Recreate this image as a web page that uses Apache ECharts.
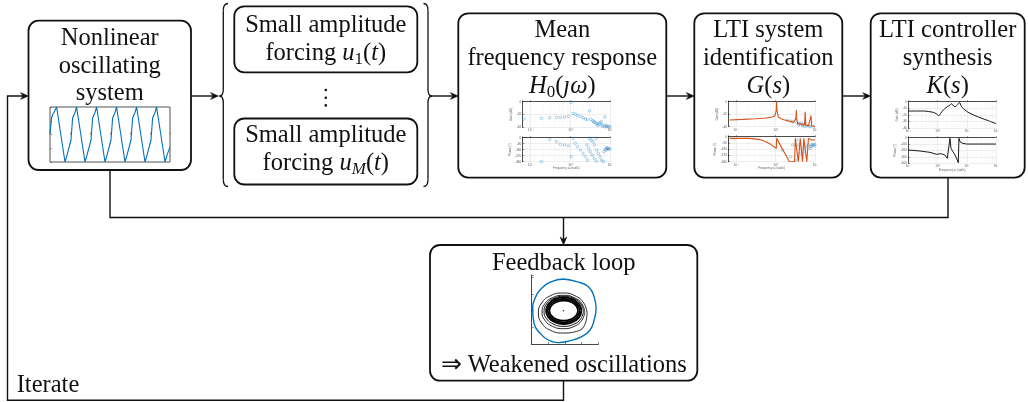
<!DOCTYPE html>
<html><head><meta charset="utf-8">
<script src="https://cdn.jsdelivr.net/npm/echarts@6.0.0/dist/echarts.min.js"></script>
<style>html,body{margin:0;padding:0;background:#fff}#c{width:1028px;height:402px}</style>
</head><body><div id="c"></div>
<script>
// ---------------- data ----------------
// oscillation of the nonlinear system (time in periods, normalized amplitude)
const oscWave = [[0,0.05],[0.08,0.6],[0.13,0.72],[0.2,0.8],[0.33,1.0],[0.75,-1.0],[0.85,-0.75],[0.95,-0.72],[1.05,-0.2],[1.13,0.6],[1.2,0.72],[1.25,0.8],[1.33,1.0],[1.75,-1.0],[1.85,-0.75],[1.95,-0.72],[2.05,-0.2],[2.13,0.6],[2.2,0.72],[2.25,0.8],[2.33,1.0],[2.75,-1.0],[2.85,-0.75],[2.95,-0.72],[3.05,-0.2],[3.13,0.6],[3.2,0.72],[3.25,0.8],[3.33,1.0],[3.75,-1.0],[3.85,-0.75],[3.95,-0.72],[4.05,-0.2],[4.13,0.6],[4.2,0.72],[4.25,0.8],[4.33,1.0],[4.75,-1.0],[4.85,-0.75],[4.95,-0.72],[5.05,-0.2],[5.13,0.6],[5.2,0.72],[5.25,0.8],[5.33,1.0],[5.75,-1.0],[5.85,-0.75],[5.95,-0.72],[6.0,-0.45]];

// mean frequency response H0 (rad/s, dB) and (rad/s, deg)
const h0Gain = [[0.066,-27],[0.186,-26],[0.30,-25],[0.447,-24.4],[0.562,-24.4],[0.708,-23.9],[0.891,-22.9],[1.047,-1],[1.175,-18.2],[1.33,-19.7],[1.51,-21.3],[1.78,-22.9],[2.09,-24.9],[2.40,-27],[2.69,-28],[3.02,-14.5],[3.31,-27.5],[3.72,-30],[3.9,-31.5],[4.17,-32],[4.5,-35],[4.79,-34],[5.0,-37],[5.37,-35],[5.6,-33],[6.03,-31],[6.3,-38],[6.61,-36],[7.2,-39],[7.41,-24],[7.94,-37],[8.0,-39.5],[8.51,-38],[9.33,-39],[10,-39.5]];
const h0Phase = [[0.186,-360],[0.30,-25],[0.447,-60],[0.562,-100],[0.708,-110],[0.891,-120],[1.047,-285],[1.175,-10],[1.33,-85],[1.51,-135],[1.78,-185],[2.09,-235],[2.40,-285],[2.61,-110],[2.69,-335],[2.87,-160],[3.02,-10],[3.16,-210],[3.31,-35],[3.55,-260],[3.72,-60],[3.98,-310],[4.06,-110],[4.47,-10],[4.5,-350],[4.64,-185],[5.11,-235],[5.62,-285],[6.19,-335],[6.81,-360],[7.08,-210],[7.6,-170],[7.94,-185],[8.25,-150],[8.58,-160],[8.9,-160],[9.26,-170],[10,-170]];

// identified LTI model G(s)
const gGainFit = [[0.068,-29.3],[0.147,-28.3],[0.316,-27.2],[0.562,-26.1],[0.826,-24.5],[0.962,-22.4],[1.039,-13.3],[1.059,0],[1.08,-13.3],[1.166,-24],[1.33,-26.7],[1.61,-28.8],[2.15,-30.9],[2.87,-33.1],[3.16,-34.1],[3.28,-26.7],[3.35,-13.3],[3.41,-26.7],[3.62,-34.7],[4.64,-36.3],[5.41,-37.3],[5.62,-16],[5.84,-37.3],[6.81,-38.4],[7.65,-38.9],[7.94,-22.4],[8.25,-38.9],[10,-39.5]];
const gGainData = [[1.96,-29.3],[2.37,-30.9],[2.71,-32],[3.48,-33.6],[3.83,-37.3],[3.98,-35.2],[4.47,-34.1],[4.83,-38.9],[4.92,-36.3],[5.62,-40],[6.19,-38.4],[7.08,-38.9],[7.5,-40],[9.1,-40]];
const gPhaseFit = [[0.068,-24],[0.215,-24],[0.383,-38],[0.562,-72],[0.75,-110],[0.909,-144],[1.039,-168],[1.059,-24],[2.24,-360],[3.04,-360],[3.16,-24],[3.76,-360],[4.22,-24],[4.82,-360],[5.21,-24],[6.19,-360],[6.81,-24],[8.25,-48],[10,-48]];
const gPhaseData = [[1.47,-192],[2.37,-288],[2.71,-120],[3.16,-336],[3.48,-48],[3.83,-120],[4.22,-240],[4.82,-168],[5.41,-216],[5.84,-144],[6.81,-120],[7.5,-168],[7.9,-144],[8.25,-130],[8.6,-110],[9.1,-120],[9.6,-130],[10,-110]];

// LTI controller K(s)
const kGain = [[0.1,-14],[0.326,-14],[0.716,-16],[0.931,-18.5],[1.12,-21],[1.28,-17.5],[1.57,-12.5],[2.16,-7.5],[2.66,-5],[3.03,-3],[3.46,-6],[3.94,-7.5],[4.74,-5],[5.56,-1],[6.67,-7.5],[8.67,-12.5],[12.9,-17.5],[28.3,-24],[54.6,-28.5],[100,-33]];
const kPhase = [[0.1,-192],[0.251,-208],[0.551,-229],[0.931,-260],[1.06,-281],[1.28,-249],[1.49,-229],[1.79,-270],[2.16,-322],[2.52,-348],[2.66,-10],[2.88,-166],[3.94,-270],[4.74,-348],[5.13,-390],[5.41,-10],[5.85,-62],[7.22,-88],[9.89,-99],[28.3,-99],[100,-99]];

// feedback loop phase portrait
const openLoopCycle = [[95,195],[135,187],[170,172],[187,142],[193,107],[187,72],[175,42],[150,22],[115,10],[80,4],[50,12],[25,32],[7,62],[3,102],[10,137],[30,167],[60,187],[95,195]];
const spiralA = [[166,93],[156,123],[129.5,145],[93,153],[56.5,145],[29.8,123],[20,93],[29.8,63],[56.5,41],[93,33],[135,38],[160,60],[166,93]];
const spiralB = [[159,96],[150.4,121],[127,139.3],[95,146],[63,139.3],[39.6,121],[31,96],[39.6,71],[63,52.7],[95,46],[127,52.7],[150.4,71],[159,96]];
const spiralC = [[155,98],[147.1,120.5],[125.5,137],[96,143],[66.5,137],[44.9,120.5],[37,98],[44.9,75.5],[66.5,59],[96,53],[125.5,59],[147.1,75.5],[155,98]];
const core1 = [[149,100],[141.9,120],[122.5,134.6],[96,140],[69.5,134.6],[50.1,120],[43,100],[50.1,80],[69.5,65.4],[96,60],[122.5,65.4],[141.9,80],[149,100]];
const core2 = [[144,100],[137.6,117.5],[120,130.3],[96,135],[72,130.3],[54.4,117.5],[48,100],[54.4,82.5],[72,69.7],[96,65],[120,69.7],[137.6,82.5],[144,100]];
const core3 = [[139,100],[133.2,115],[117.5,126],[96,130],[74.5,126],[58.8,115],[53,100],[58.8,85],[74.5,74],[96,70],[117.5,74],[133.2,85],[139,100]];
const equilibrium = [[95,100]];

// ---------------- chart ----------------
const FONT = 'Liberation Serif';
const INK = '#111';
const BLUE = '#0072BD', ORANGE = '#D95319';
const chart = echarts.init(document.getElementById('c'), null, {renderer: 'canvas'});

const grids = [
  {left: 50, top: 107, width: 120, height: 55, show: true, borderColor: '#555', borderWidth: 1},
  {left: 522.7, top: 101.7, width: 87.3, height: 25.6},
  {left: 522.7, top: 137.7, width: 87.3, height: 24},
  {left: 728.3, top: 101.7, width: 86.7, height: 25},
  {left: 728.3, top: 136.7, width: 86.7, height: 25},
  {left: 908.3, top: 101.7, width: 87.7, height: 26.6},
  {left: 908.3, top: 137.7, width: 87.7, height: 25.6},
  {left: 531.7, top: 275, width: 66.7, height: 69}
].map(g => Object.assign({outerBoundsMode: 'none', containLabel: false}, g));

const tiny = {fontSize: 3, color: '#555', margin: 1.5};
function supExp(v) {
  const e = Math.log10(v), r = Math.round(e);
  if (Math.abs(e - r) > 0.02) return '';
  return '10' + ({'-1':'⁻¹','0':'⁰','1':'¹','2':'²'}[String(r)] || '');
}
function logX(gi, min, max, name) {
  return {type: 'log', logBase: 10, gridIndex: gi, min, max, splitNumber: 3,
    axisLine: {lineStyle: {color: '#222', width: 0.8}},
    axisTick: {inside: true, length: 1.5, lineStyle: {color: '#222', width: 0.5}},
    axisLabel: Object.assign({formatter: supExp}, tiny),
    splitLine: {show: true, lineStyle: {color: '#dcdcdc', width: 0.5}},
    minorTick: {show: false, splitNumber: 9},
    minorSplitLine: {show: true, lineStyle: {color: '#efefef', width: 0.4}},
    name: name || '', nameLocation: 'middle', nameGap: 5, nameTextStyle: {fontSize: 3, color: '#666'}};
}
function valY(gi, min, max, interval, name) {
  return {type: 'value', gridIndex: gi, min, max, interval,
    axisLine: {show: true, lineStyle: {color: '#222', width: 0.8}},
    axisTick: {show: true, inside: true, length: 1.5, lineStyle: {color: '#222', width: 0.5}},
    axisLabel: tiny,
    splitLine: {show: true, lineStyle: {color: '#dcdcdc', width: 0.5}},
    name, nameLocation: 'middle', nameGap: 7, nameRotate: 90, nameTextStyle: {fontSize: 3, color: '#666'}};
}

const xAxes = [
  {type: 'value', gridIndex: 0, min: 0, max: 6, interval: 1, axisLine: {show: false},
   axisTick: {show: true, inside: true, length: 2, lineStyle: {color: '#555', width: 0.6}},
   axisLabel: {show: false}, splitLine: {show: false}},
  logX(1, 0.0628, 10),
  logX(2, 0.0628, 10, 'Frequency ω (rad/s)'),
  logX(3, 0.0628, 10),
  logX(4, 0.0628, 10, 'Frequency ω (rad/s)'),
  logX(5, 0.1, 100),
  logX(6, 0.1, 100, 'Frequency ω (rad/s)'),
  {type: 'value', gridIndex: 7, min: 0, max: 200, interval: 50,
   axisLine: {lineStyle: {color: '#333', width: 0.9}},
   axisTick: {inside: true, length: 2, lineStyle: {color: '#333', width: 0.6}},
   axisLabel: {show: false}, splitLine: {show: false}}
];
const yAxes = [
  {type: 'value', gridIndex: 0, min: -1, max: 1, interval: 0.5, axisLine: {show: false},
   axisTick: {show: true, inside: true, length: 2, lineStyle: {color: '#555', width: 0.6}},
   axisLabel: {show: false}, splitLine: {show: false}},
  valY(1, -40, 0, 20, 'Gain (dB)'),
  valY(2, -360, 0, 90, 'Phase (°)'),
  valY(3, -40, 0, 20, 'Gain (dB)'),
  valY(4, -360, 0, 90, 'Phase (°)'),
  valY(5, -40, 0, 10, 'Gain (dB)'),
  valY(6, -400, 0, 100, 'Phase (°)'),
  {type: 'value', gridIndex: 7, min: 0, max: 207,
   axisLine: {lineStyle: {color: '#333', width: 0.9}},
   axisTick: {inside: true, length: 2, lineStyle: {color: '#333', width: 0.6}},
   axisLabel: {show: false}, splitLine: {show: false}}
];

function lineS(i, data, color, width, smooth) {
  return {type: 'line', xAxisIndex: i, yAxisIndex: i, data, showSymbol: false, symbol: 'none',
    smooth: smooth || false, lineStyle: {color, width}, silent: true, animation: false, clip: true, z: 3};
}
function scatS(i, data) {
  return {type: 'scatter', xAxisIndex: i, yAxisIndex: i, data, symbol: 'circle', symbolSize: 2.6,
    itemStyle: {color: 'rgba(255,255,255,0)', borderColor: 'rgba(0,114,189,0.65)', borderWidth: 0.6},
    silent: true, animation: false, z: 2};
}

const series = [
  lineS(0, oscWave, BLUE, 1.1),
  scatS(1, h0Gain), scatS(2, h0Phase),
  scatS(3, gGainData), lineS(3, gGainFit, ORANGE, 1.1),
  scatS(4, gPhaseData), lineS(4, gPhaseFit, ORANGE, 1.1),
  lineS(5, kGain, '#000', 0.9, 0.3), lineS(6, kPhase, '#000', 0.9),
  lineS(7, spiralA, '#111', 0.9, 0.5), lineS(7, spiralB, '#111', 0.9, 0.5), lineS(7, spiralC, '#111', 1.0, 0.5),
  lineS(7, core1, '#000', 1.8, 0.5), lineS(7, core2, '#000', 1.8, 0.5), lineS(7, core3, '#000', 1.8, 0.5),
  lineS(7, openLoopCycle, BLUE, 1.4, 0.5),
  {type: 'scatter', xAxisIndex: 7, yAxisIndex: 7, data: equilibrium, symbolSize: 1.5, itemStyle: {color: '#000'}, silent: true, animation: false}
];

// ---------------- diagram layout (graphic) ----------------
const G = [];
const FS = 24.5, SFS = 17;
const STY = {
  n: {size: FS, italic: false, dy: 0},
  i: {size: FS, italic: true, dy: 0},
  s: {size: SFS, italic: false, dy: 6},
  si: {size: SFS, italic: true, dy: 6}
};
const mctx = document.createElement('canvas').getContext('2d');
function measure(t, st) {
  mctx.font = (st.italic ? 'italic ' : '') + st.size + 'px "' + FONT + '"';
  return mctx.measureText(t).width;
}
// segments: [[styleKey, text], ...]; laid out left to right, centred on cx (or left-aligned)
function txt(cx, y, segs, leftAlign) {
  if (typeof segs === 'string') segs = [['n', segs]];
  const widths = segs.map(([k, t]) => measure(t, STY[k]));
  const total = widths.reduce((a, b) => a + b, 0);
  let x = leftAlign ? cx : cx - total / 2;
  segs.forEach(([k, t], j) => {
    const st = STY[k];
    G.push({type: 'text', x, y: y + st.dy, silent: true, z: 10,
      style: {text: t, fontSize: st.size, fontFamily: FONT, fontStyle: st.italic ? 'italic' : 'normal',
        fill: INK, align: 'left', verticalAlign: 'middle'}});
    x += widths[j];
  });
}
function box(x, y, w, h) {
  G.push({type: 'rect', silent: true, z: 1, shape: {x, y, width: w, height: h, r: 10},
    style: {fill: 'none', stroke: INK, lineWidth: 1.8}});
}
function poly(points, lw) {
  G.push({type: 'polyline', silent: true, z: 1, shape: {points}, style: {stroke: INK, lineWidth: lw || 1.4, fill: null}});
}
function head(x, y, dir) {
  const L = 8, W = 3.4, B = 5.5;
  let pts;
  if (dir === 'right') pts = [[x, y], [x - L, y - W], [x - B, y], [x - L, y + W]];
  else if (dir === 'down') pts = [[x, y], [x - W, y - L], [x, y - B], [x + W, y - L]];
  G.push({type: 'polygon', silent: true, z: 2, shape: {points: pts}, style: {fill: INK, stroke: INK, lineWidth: 0.5}});
}
function arrowR(x1, x2, y) { poly([[x1, y], [x2 - 4, y]]); head(x2, y, 'right'); }
function seg(x1, y1, x2, y2) {
  G.push({type: 'line', silent: true, z: 1, shape: {x1, y1, x2, y2}, style: {stroke: INK, lineWidth: 1.3}});
}
function qc(x1, y1, cx, cy, x2, y2) {
  G.push({type: 'bezierCurve', silent: true, z: 1, shape: {x1, y1, x2, y2, cpx1: cx, cpy1: cy}, style: {stroke: INK, lineWidth: 1.3, fill: null}});
}
function brace(xe, xv, xt, top, mid, bot) {
  qc(xe, top, xv, top, xv, top + 7);
  seg(xv, top + 7, xv, mid - 7);
  qc(xv, mid - 7, xv, mid, xt, mid);
  qc(xt, mid, xv, mid, xv, mid + 7);
  seg(xv, mid + 7, xv, bot - 7);
  qc(xv, bot - 7, xv, bot, xe, bot);
}

// boxes
box(28.5, 20.7, 162.5, 149.3);
box(234.3, 6.3, 183, 66);
box(234.3, 118.5, 183, 66);
box(458.3, 13.3, 208, 164.3);
box(694.3, 13.3, 148, 164.3);
box(870.7, 13.3, 154, 164.3);
box(430, 245, 267.3, 135.7);

// texts
txt(109.7, 39, 'Nonlinear');
txt(109.7, 66.5, 'oscillating');
txt(109.7, 93.5, 'system');
txt(325.8, 25.5, 'Small amplitude');
txt(325.8, 54, [['n', 'forcing '], ['i', 'u'], ['s', '1'], ['n', '('], ['i', 't'], ['n', ')']]);
txt(325.8, 136, 'Small amplitude');
txt(325.8, 164, [['n', 'forcing '], ['i', 'u'], ['si', 'M'], ['n', '('], ['i', 't'], ['n', ')']]);
txt(562.3, 30.7, 'Mean');
txt(562.3, 59, 'frequency response');
txt(562.3, 86.5, [['i', 'H'], ['s', '0'], ['n', '('], ['i', 'ȷω'], ['n', ')']]);
txt(768.3, 30.7, 'LTI system');
txt(768.3, 59, 'identification');
txt(768.3, 86.5, [['i', 'G'], ['n', '('], ['i', 's'], ['n', ')']]);
txt(947.7, 30.7, 'LTI controller');
txt(947.7, 59, 'synthesis');
txt(947.7, 86.5, [['i', 'K'], ['n', '('], ['i', 's'], ['n', ')']]);
txt(563.7, 264, 'Feedback loop');
txt(563.7, 366, '⇒ Weakened oscillations');
txt(16.7, 386, 'Iterate', true);

// vertical dots
[90, 97.7, 105.4].forEach(cy => G.push({type: 'circle', silent: true, shape: {cx: 325.8, cy, r: 1.3}, style: {fill: INK}}));

// braces
brace(228, 223.3, 219.5, 3.5, 96, 186.5);
brace(423.5, 428, 432, 3.5, 96, 186.5);

// arrows
arrowR(191, 218.5, 96);
arrowR(432, 458.3, 96);
arrowR(666.3, 694.3, 96);
arrowR(842.3, 870.7, 96);
poly([[110, 170], [110, 217.5], [948, 217.5], [948, 177.6]]);
poly([[563.5, 217.5], [563.5, 241]]); head(563.5, 245, 'down');
poly([[563.5, 380.7], [563.5, 400.3], [7.5, 400.3], [7.5, 96], [24.5, 96]]); head(28.5, 96, 'right');

chart.setOption({
  animation: false,
  backgroundColor: '#fff',
  grid: grids,
  xAxis: xAxes,
  yAxis: yAxes,
  series,
  graphic: {elements: G}
});
</script>
</body></html>
